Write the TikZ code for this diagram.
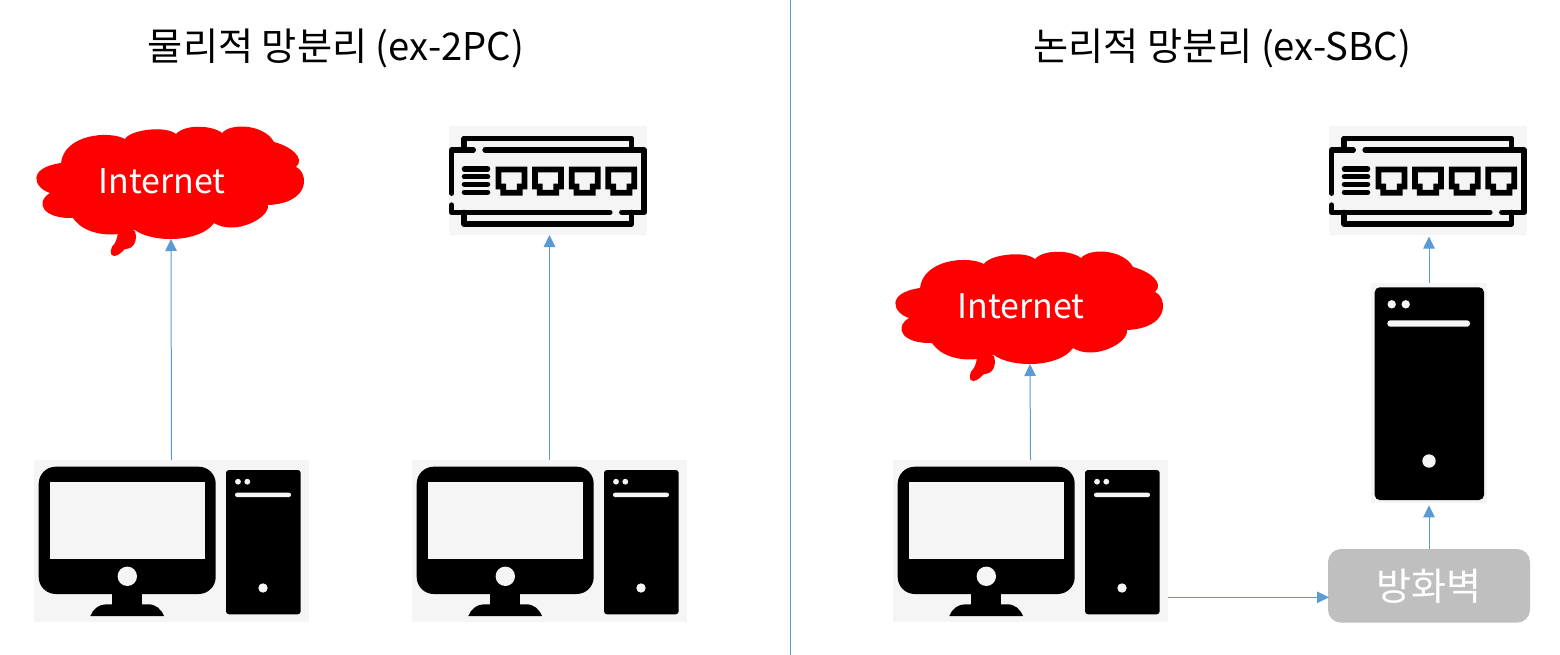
\documentclass[tikz,border=0pt]{standalone}
\usepackage{fontspec}
\setmainfont{Noto Sans CJK KR}
\usetikzlibrary{arrows.meta}
\definecolor{linkblue}{HTML}{5B9BD5}
\definecolor{panelgray}{HTML}{F5F5F5}
\definecolor{fwgray}{HTML}{BFBFBF}
\tikzset{
  conn/.style={draw=linkblue,line width=1pt,-{Triangle[length=12pt,width=11.5pt,fill=linkblue]}},
  bgbox/.style={fill=panelgray,draw=none,inner sep=0pt,outer sep=0pt,anchor=north west},
  pcbox/.style={bgbox,minimum width=275pt,minimum height=162pt},
  swbox/.style={bgbox,minimum width=198pt,minimum height=109pt},
  title/.style={font=\fontsize{38.2}{44}\selectfont,text=black,inner sep=0pt},
  swline/.style={draw=black,line width=5.2pt,line cap=round,line join=round},
  computer/.pic={
    \fill[black,rounded corners=17pt] (4.7,6.7) rectangle (181.7,134);
    \fill[panelgray] (15.7,21.7) rectangle (170.7,99.3);
    \fill[panelgray] (93.3,116.3) circle[radius=9.7pt];
    \fill[black] (78.3,130) rectangle (108,146);
    \fill[black] (56.3,156) .. controls (59,149) and (65,144.3) .. (72,144.3) -- (114,144.3)
       .. controls (122,144.3) and (127,149) .. (130,156) -- cycle;
    \fill[black,rounded corners=3pt] (192,10) rectangle (266.7,154.3);
    \fill[panelgray] (204,21.7) circle[radius=2.9pt] (213.3,21.7) circle[radius=2.9pt];
    \fill[panelgray,rounded corners=2pt] (201,32.7) rectangle (257,37);
    \fill[panelgray] (229,128) circle[radius=4.7pt];
  },
  cloudshape/.pic={
    \fill[red] (61,163)
      .. controls (64,135) and (108,130) .. (125,139)
      .. controls (130,130) and (165,125) .. (176,134)
      .. controls (185,124) and (212,125) .. (222,133)
      .. controls (232,122) and (265,125) .. (274,142)
      .. controls (290,146) and (306,158) .. (296,167)
      .. controls (308,172) and (312,203) .. (268,205)
      .. controls (270,218) and (235,236) .. (214,223)
      .. controls (200,243) and (152,243) .. (135,230)
      .. controls (115,238) and (85,236) .. (73,218)
      .. controls (44,219) and (34,203) .. (50,193)
      .. controls (34,188) and (26,168) .. (61,163) -- cycle;
    \fill[red] (117,230) .. controls (119,236) and (116,240) .. (115,243)
      .. controls (110,247) and (109,256) .. (114,256)
      .. controls (118,256) and (122,252) .. (125,249)
      .. controls (133,249) and (138,242) .. (135,231) -- cycle;
    \node[font=\fontsize{34}{40}\selectfont,text=white,inner sep=0pt] (-label) at (162,181.5) {Internet};
    \coordinate (-tip) at (171,239);
  },
  switchicon/.pic={
    \begin{scope}[x=0.3333pt,y=-0.3333pt,shift={(-9pt,11pt)}]
      \draw[swline] (72,97) -- (72,70) -- (575,70) -- (575,97);
      \draw[swline] (100,105) -- (35,105) -- (35,235);
      \draw[swline] (35,270) -- (35,292) -- (510,292);
      \draw[swline] (545,292) -- (612,292) -- (612,105) -- (135,105);
      \draw[swline] (72,292) -- (72,327) -- (575,327) -- (575,292);
      \draw[swline] (73,162) -- (143,162) (73,185) -- (143,185) (73,208) -- (143,208) (73,232) -- (143,232);
      \foreach \px in {175.5,285,395,505} {
        \draw[swline,line width=5.8pt,line cap=butt,line join=miter]
          (\px,163.5) -- ++(78,0) -- ++(0,51) -- ++(-14.5,0) -- ++(0,18.5) -- ++(-49,0) -- ++(0,-18.5) -- ++(-14.5,0) -- cycle;
      }
    \end{scope}
  }
}
\begin{document}
\begin{tikzpicture}[x=1pt,y=-1pt]
\useasboundingbox (0,0) rectangle (1560,655);
\coordinate (divtop) at (790.5,0);
\coordinate (divbot) at (790.5,655);
\draw[linkblue,line width=1pt] (divtop) -- (divbot);

\node[title] (t1) at (336,48.5) {물리적 망분리 (ex-2PC)};
\node[title] (t2) at (1222,48.5) {논리적 망분리 (ex-SBC)};

% left panel
\node[pcbox] (pc1) at (34,460) {};
\pic at (pc1.north west) {computer};
\node[pcbox] (pc2) at (412,460) {};
\pic at (pc2.north west) {computer};
\pic (c1) at (0,0) {cloudshape};
\node[swbox] (sw1) at (449,126) {};
\pic at (sw1.north west) {switchicon};

% right panel
\node[pcbox] (pc3) at (893,460) {};
\pic at (pc3.north west) {computer};
\pic (c2) at (859,125) {cloudshape};
\node[swbox] (sw2) at (1329,126) {};
\pic at (sw2.north west) {switchicon};

\node[bgbox,minimum width=116pt,minimum height=220pt] (srv) at (1371,283.3) {};
\fill[black,rounded corners=5pt] (1374.7,287.3) rectangle (1484,500);
\fill[panelgray] (1391.7,304.3) circle[radius=4.2pt] (1405.7,304.3) circle[radius=4.2pt];
\fill[panelgray,rounded corners=3pt] (1387.3,320.3) rectangle (1470,326.7);
\fill[panelgray] (1429,461) circle[radius=6.7pt];

\node[fill=fwgray,rounded corners=13pt,minimum width=202pt,minimum height=73.7pt,inner sep=0pt,outer sep=0pt,anchor=north west,text=white,font=\fontsize{38}{44}\selectfont] (fw) at (1328,549) {방화벽};

% connectors
\coordinate (fwin) at (1329,597.3);
\draw[conn] (pc1.north) -- (c1-tip);
\draw[conn] (pc2.north) -- (pc2.north |- sw1.south);
\draw[conn] (pc3.north) -- (c2-tip);
\draw[conn] (pc3.east |- fwin) -- (fwin);
\draw[conn] (fw.north) -- ([yshift=-2pt]fw.north |- srv.south);
\draw[conn] (srv.north) -- ([yshift=-1.5pt]srv.north |- sw2.south);
\end{tikzpicture}
\end{document}
